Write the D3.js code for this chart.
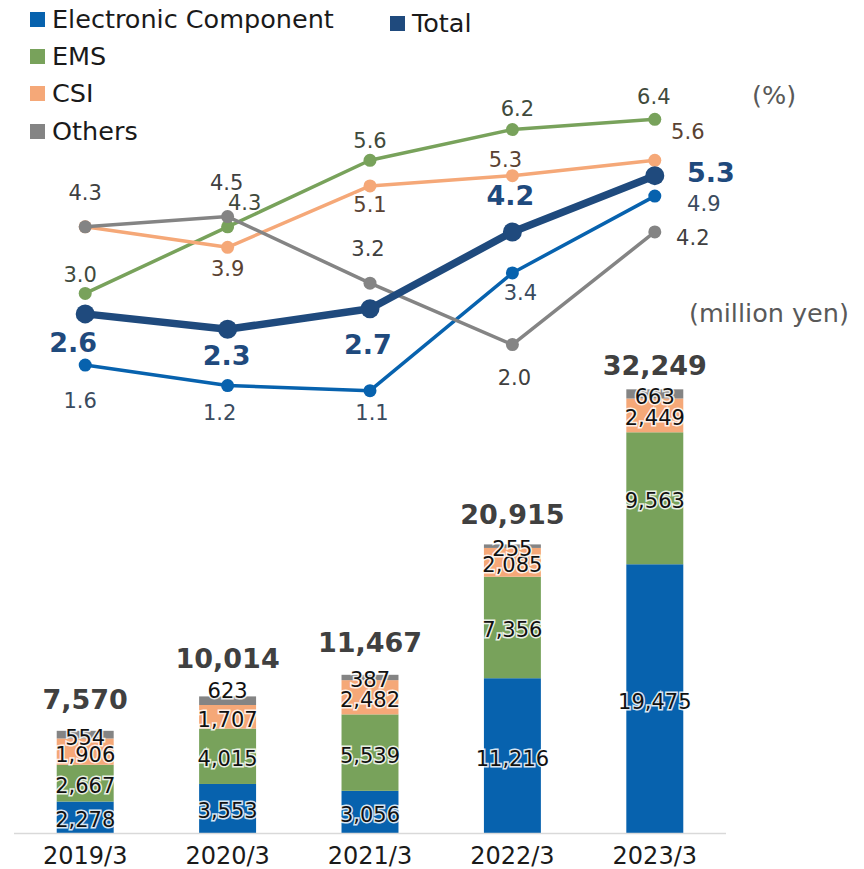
<!DOCTYPE html>
<html>
<head>
<meta charset="utf-8">
<script src="https://cdn.jsdelivr.net/npm/d3@7"></script>
<style>
body { margin: 0; background: #fff; }
svg { font-family: "DejaVu Sans", Verdana, sans-serif; }
</style>
</head>
<body>
<svg id="chart" width="864" height="869"></svg>
<script>
var years = ["2019/3", "2020/3", "2021/3", "2022/3", "2023/3"];

// sales, million yen
var ecSales = [2278, 3553, 3056, 11216, 19475];
var emsSales = [2667, 4015, 5539, 7356, 9563];
var csiSales = [1906, 1707, 2482, 2085, 2449];
var othersSales = [554, 623, 387, 255, 663];
var totalSales = [7570, 10014, 11467, 20915, 32249];

// margins, %
var ecRate = [1.6, 1.2, 1.1, 3.4, 4.9];
var emsRate = [3.0, 4.3, 5.6, 6.2, 6.4];
var csiRate = [4.3, 3.9, 5.1, 5.3, 5.6];
var othersRate = [4.3, 4.5, 3.2, 2.0, 4.2];
var totalRate = [2.6, 2.3, 2.7, 4.2, 5.3];

var segNames = ["Electronic Component", "EMS", "CSI", "Others"];
var colors = {
    "Electronic Component": "#0762ae",
    "EMS": "#78a25b",
    "CSI": "#f5a878",
    "Others": "#848484",
    "Total": "#1f4a7d"
};

// label placement around each point [dx, dy] (null = hidden)
var rateLabelPos = {
    "Electronic Component": [[-5, 43], [-8, 34], [2, 29], [8, 27], [49, 15]],
    "EMS": [[-5, -11], [17, -17], [0, -12], [5, -14], [-1, -15]],
    "CSI": [null, [0, 29], [0, 26], [-7, -9], [33, -21]],
    "Others": [[0, -27], [-1, -27], [-2, -27], [2, 40], [38, 13]],
    "Total": [[-12, 38], [-1, 36], [-2, 45], [-2, -27], [56, 6]]
};
var totalLabelGap = [20, 27, 23, 20, 13];
var othersLabelNudge = [0, -13, 0, 0, 0];

var svg = d3.select("#chart");

var x = d3.scaleBand()
    .domain(years)
    .range([14, 726])
    .paddingInner(0.6)
    .paddingOuter(0.3);

var y = d3.scaleLinear().domain([0, 60000]).range([833, 5]);
var yr = d3.scaleLinear().domain([0, 8]).range([447, 37.4]);

var fmt = d3.format(",");

// stacked bars
var rows = years.map(function(yr_, i) {
    return {
        year: yr_,
        "Electronic Component": ecSales[i],
        "EMS": emsSales[i],
        "CSI": csiSales[i],
        "Others": othersSales[i]
    };
});
var series = d3.stack().keys(segNames)(rows);

var bars = svg.append("g");
series.forEach(function(s) {
    bars.selectAll(null)
        .data(s)
        .enter()
        .append("rect")
        .attr("x", function(d) { return x(d.data.year); })
        .attr("y", function(d) { return y(d[1]); })
        .attr("width", x.bandwidth())
        .attr("height", function(d) { return y(d[0]) - y(d[1]); })
        .attr("fill", colors[s.key]);
});

// axis line + year labels
svg.append("line")
    .attr("x1", 14).attr("x2", 726)
    .attr("y1", y(0) + 0.5).attr("y2", y(0) + 0.5)
    .attr("stroke", "#d9d9d9")
    .attr("stroke-width", 1.5);

var xAxis = svg.append("g")
    .attr("transform", "translate(0," + y(0) + ")")
    .call(d3.axisBottom(x).tickSize(0).tickPadding(14));
xAxis.select(".domain").remove();
xAxis.selectAll("text")
    .attr("font-size", 24)
    .attr("font-family", "DejaVu Sans, Verdana, sans-serif")
    .attr("fill", "#1a1a1a");

// segment labels
series.forEach(function(s) {
    bars.selectAll(null)
        .data(s)
        .enter()
        .append("text")
        .attr("x", function(d) { return x(d.data.year) + x.bandwidth() / 2; })
        .attr("y", function(d, i) {
            var nudge = s.key == "Others" ? othersLabelNudge[i] : 0;
            return (y(d[0]) + y(d[1])) / 2 + 10 + nudge;
        })
        .attr("text-anchor", "middle")
        .attr("font-size", 21)
        .attr("fill", "#111")
        .attr("stroke", "rgba(255,255,255,0.85)")
        .attr("stroke-width", 3)
        .attr("paint-order", "stroke")
        .text(function(d) { return fmt(d[1] - d[0]); });
});

// totals above bars
svg.append("g").selectAll("text")
    .data(totalSales)
    .enter()
    .append("text")
    .attr("x", function(d, i) { return x(years[i]) + x.bandwidth() / 2; })
    .attr("y", function(d, i) { return y(d) - totalLabelGap[i]; })
    .attr("text-anchor", "middle")
    .attr("font-size", 27)
    .attr("font-weight", "bold")
    .attr("fill", "#404040")
    .text(function(d) { return fmt(d); });

// lines
var lineData = [
    {name: "Electronic Component", values: ecRate, width: 3.5, r: 6.5, label: "#3a4b5e"},
    {name: "EMS", values: emsRate, width: 3.5, r: 6.5, label: "#404a3c"},
    {name: "CSI", values: csiRate, width: 3.5, r: 6.5, label: "#5a4232"},
    {name: "Others", values: othersRate, width: 3.5, r: 6.5, label: "#404040"},
    {name: "Total", values: totalRate, width: 7.5, r: 9.5, label: "#1f4a7d"}
];

var cx = function(i) { return x(years[i]) + x.bandwidth() / 2; };
var line = d3.line()
    .x(function(d, i) { return cx(i); })
    .y(function(d) { return yr(d); });

var lines = svg.append("g");
lineData.forEach(function(s) {
    var g = lines.append("g");
    g.append("path")
        .attr("d", line(s.values))
        .attr("fill", "none")
        .attr("stroke", colors[s.name])
        .attr("stroke-width", s.width)
        .attr("stroke-linejoin", "round");
    g.selectAll("circle")
        .data(s.values)
        .enter()
        .append("circle")
        .attr("cx", function(d, i) { return cx(i); })
        .attr("cy", function(d) { return yr(d); })
        .attr("r", s.r)
        .attr("fill", colors[s.name]);
});

var labels = svg.append("g");
lineData.forEach(function(s) {
    var pos = rateLabelPos[s.name];
    var isTotal = s.name == "Total";
    s.values.forEach(function(v, i) {
        if (pos[i] == null) return;
        labels.append("text")
            .attr("x", cx(i) + pos[i][0])
            .attr("y", yr(v) + pos[i][1])
            .attr("text-anchor", "middle")
            .attr("font-size", isTotal ? 27 : 21)
            .attr("font-weight", isTotal ? "bold" : "normal")
            .attr("fill", s.label)
            .attr("stroke", "rgba(255,255,255,0.85)")
            .attr("stroke-width", 3)
            .attr("paint-order", "stroke")
            .text(d3.format(".1f")(v));
    });
});

// unit labels
svg.append("text")
    .attr("x", 752).attr("y", 104)
    .attr("font-size", 25.5)
    .attr("fill", "#595959")
    .text("(%)");
svg.append("text")
    .attr("x", 689).attr("y", 322)
    .attr("font-size", 25.5)
    .attr("fill", "#595959")
    .text("(million yen)");

// legend
var legendItems = [
    {name: "Electronic Component", x: 30, y: 28},
    {name: "EMS", x: 30, y: 65},
    {name: "CSI", x: 30, y: 102},
    {name: "Others", x: 30, y: 140},
    {name: "Total", x: 390, y: 32}
];
var legend = svg.append("g").selectAll("g")
    .data(legendItems)
    .enter()
    .append("g")
    .attr("transform", function(d) { return "translate(" + d.x + "," + d.y + ")"; });
legend.append("rect")
    .attr("x", 0).attr("y", -16)
    .attr("width", 15).attr("height", 15)
    .attr("fill", function(d) { return colors[d.name]; });
legend.append("text")
    .attr("x", 22)
    .attr("font-size", 25.5)
    .attr("fill", "#1a1a1a")
    .text(function(d) { return d.name; });
</script>
</body>
</html>
